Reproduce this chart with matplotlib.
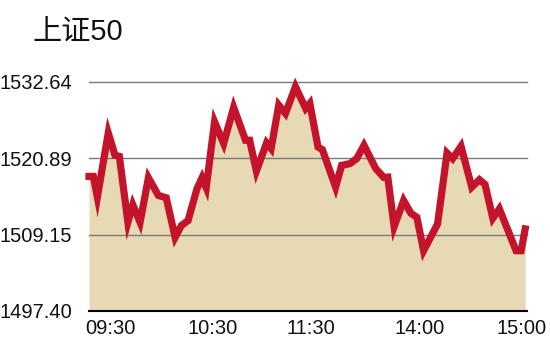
import matplotlib
matplotlib.use("Agg")
from matplotlib import pyplot as plt

# minutes since 09:30 (lunch break removed) and index level
minutes = [0, 2.4, 4.6, 10.6, 14.3, 16.7, 21.4, 24.1, 28.1, 32.7, 38.2, 42.5,
           47.4, 50.8, 54.5, 59.4, 62.2, 64.5, 69.1, 74.1, 79.6, 86.1, 88.4,
           92.1, 97.7, 100.2, 104.4, 108.1, 113.6, 119.2, 121.5, 126, 128.4,
           135.7, 139, 143.6, 147.3, 151.3, 157.8, 162.2, 164.4, 167.9, 173.1,
           177.1, 180.4, 184.1, 191.8, 197, 200.1, 204.7, 210.6, 214.8, 217.9,
           222.2, 225.8, 235, 237.8, 240]
values = [1518.11, 1518.11, 1514.91, 1524.80, 1521.36, 1521.20, 1511.05,
          1513.74, 1511.05, 1517.91, 1515.18, 1514.82, 1508.73, 1510.54,
          1511.31, 1516.21, 1517.91, 1516.37, 1526.50, 1523.17, 1528.73,
          1523.68, 1523.68, 1518.93, 1523.26, 1522.39, 1529.09, 1527.80,
          1531.91, 1528.58, 1529.35, 1522.64, 1522.24, 1516.46, 1519.81,
          1520.08, 1520.85, 1522.90, 1519.30, 1517.96, 1518.00, 1510.39,
          1514.40, 1512.44, 1511.82, 1506.68, 1510.80, 1521.71, 1520.85,
          1522.75, 1516.46, 1517.60, 1516.88, 1511.67, 1513.12, 1506.68,
          1506.68, 1510.03]

y_ticks = [1497.40, 1509.15, 1520.89, 1532.64]
x_tick_pos = [12, 68, 122, 182, 238]
x_tick_labels = ["09:30", "10:30", "11:30", "14:00", "15:00"]

plt.rcParams['font.family'] = ['Liberation Sans', 'Noto Sans CJK SC', 'DejaVu Sans']

fig = plt.figure(figsize=(5.5, 3.46), dpi=100)
ax = fig.add_axes([89 / 550, 1 - 311 / 346, 438 / 550, 229 / 346])

ax.fill_between(minutes, values, y_ticks[0], color="#e8d9b5", lw=0, zorder=1)
ax.plot(minutes, values, color="#c3142c", lw=5.2, solid_joinstyle="miter",
        zorder=3, clip_on=False)

for v in y_ticks[1:]:
    ax.axhline(v, color="#7a7a7a", lw=1, zorder=2, clip_on=False)
ax.axhline(y_ticks[0], color="black", lw=1.5, zorder=4, clip_on=False)

ax.set_xlim(0, 241)
ax.set_ylim(y_ticks[0], y_ticks[-1])
ax.set_yticks(y_ticks)
ax.set_yticklabels(["%.2f" % v for v in y_ticks])
ax.set_xticks(x_tick_pos)
ax.set_xticklabels(x_tick_labels)
ax.tick_params(length=0, labelsize=14.5, colors="#111111")
ax.tick_params(axis="y", pad=12)
ax.tick_params(axis="x", pad=6)
for s in ax.spines.values():
    s.set_visible(False)

fig.text(32 / 550, 1 - 41 / 346, "上证50", fontsize=21,
         family=['Liberation Sans', 'Noto Sans CJK SC', 'DejaVu Sans'],
         color="#111111")

plt.savefig("out.png", dpi=100)
